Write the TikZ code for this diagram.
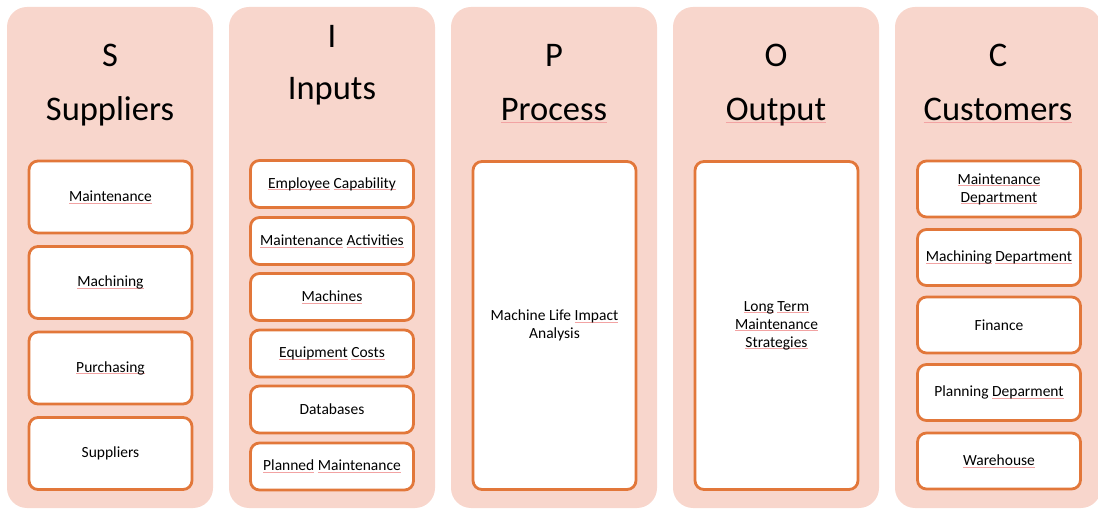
\documentclass[tikz,border=0pt]{standalone}
\usepackage{fontspec}
\setmainfont{Carlito}
\definecolor{colfill}{HTML}{F8D6CC}
\definecolor{boxline}{HTML}{E2773A}
\definecolor{squig}{HTML}{F2A3A3}
% spell-check style underline at a fixed depth below the baseline
\newcommand\sq[1]{\leavevmode\setbox0\hbox{#1}\rlap{\color{squig}\rule[-2pt]{\wd0}{0.7pt}}\box0\relax}
\begin{document}
\begin{tikzpicture}[x=1pt,y=-1pt,
  column/.style={fill=colfill, draw=none, rounded corners=20pt, minimum width=206pt, minimum height=501pt, inner sep=0pt},
  item/.style={draw=boxline, line width=2.8pt, fill=white, rounded corners=9pt, minimum width=163pt, inner sep=0pt, align=center, font=\fontsize{15.5}{18}\selectfont},
  tall/.style={item, minimum height=72pt},
  short/.style={item, minimum height=47pt},
  mid/.style={item, minimum height=56pt},
  long/.style={item, minimum height=328pt},
  head/.style={anchor=base, inner sep=0pt, font=\fontsize{34.5}{40}\selectfont}]
\useasboundingbox (0,0) rectangle (1098,510);
\clip (0,0) rectangle (1098,510);

% background columns
\node[column] (colS) at (110,257.5) {};
\node[column] (colI) at (332,257.5) {};
\node[column] (colP) at (554,257.5) {};
\node[column] (colO) at (776,257.5) {};
\node[column] (colC) at (998,257.5) {};

% headings
\node[head] (hS)  at (110,67)  {S};
\node[head] (tS)  at (110,121) {Suppliers};
\node[head] (hI)  at (332,48)  {I};
\node[head] (tI)  at (332,100) {Inputs};
\node[head] (hP)  at (554,67)  {P};
\node[head] (tP)  at (554,121) {\sq{Process}};
\node[head] (hO)  at (776,67)  {O};
\node[head] (tO)  at (776,121) {\sq{Output}};
\node[head] (hC)  at (998,67)  {C};
\node[head] (tC)  at (998,121) {\sq{Customers}};

% suppliers
\node[tall] (s1) at (110.5,197)   {\sq{Maintenance}};
\node[tall] (s2) at (110.5,282.5) {\sq{Machining}};
\node[tall] (s3) at (110.5,368)   {\sq{Purchasing}};
\node[tall] (s4) at (110.5,453.5) {Suppliers};

% inputs
\node[short] (i1) at (332,184)   {\sq{Employee} \sq{Capability}};
\node[short] (i2) at (332,241)   {\sq{Maintenance} \sq{Activities}};
\node[short] (i3) at (332,297)   {\sq{Machines}};
\node[short] (i4) at (332,353.5) {\sq{Equipment} \sq{Costs}};
\node[short] (i5) at (332,409.5) {Databases};
\node[short] (i6) at (332,466.5) {\sq{Planned} \sq{Maintenance}};

% process and output
\node[long] (p1) at (554.5,325.5) {Machine Life \sq{Impact}\\Analysis};
\node[long] (o1) at (776.5,325.5) {\sq{Long} \sq{Term}\\\sq{Maintenance}\\\sq{Strategies}};

% customers
\node[mid] (c1) at (999,189)   {\sq{Maintenance}\\\sq{Department}};
\node[mid] (c2) at (999,257.5) {\sq{Machining} \sq{Department}};
\node[mid] (c3) at (999,325)   {Finance};
\node[mid] (c4) at (999,392.5) {Planning \sq{Deparment}};
\node[mid] (c5) at (999,461)   {\sq{Warehouse}};
\end{tikzpicture}
\end{document}
